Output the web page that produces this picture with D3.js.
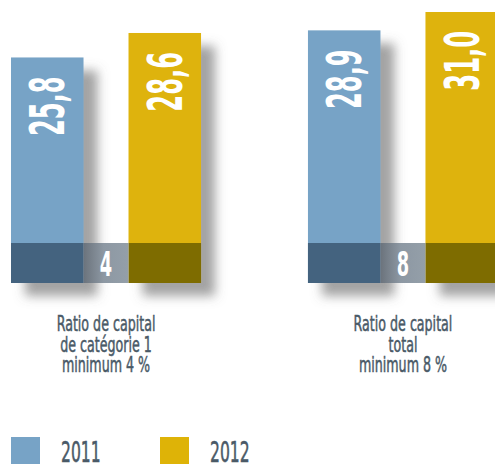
<!DOCTYPE html>
<html lang="fr">
  <head>
    <meta charset="UTF-8" />
    <title>Ratios de capital</title>
    <script src="https://d3js.org/d3.v7.min.js"></script>
    <style>
      body { margin: 0; background: #fff; }
      svg text { font-family: 'DejaVu Sans Condensed', 'DejaVu Sans', sans-serif; }
      svg text.value, svg text.min { font-weight: bold; }
      svg text.label, svg text.leg { stroke: #4a5a67; stroke-width: 0.5; }
    </style>
  </head>
  <body></body>
  <script type="text/javascript">
    var width = 495,
      height = 464;

    // données
    var categories = [
      ['Ratio de capital', 'de catégorie 1', 'minimum 4 %'],
      ['Ratio de capital', 'total', 'minimum 8 %']
    ];
    var years = ['2011', '2012'];
    var values2011 = [25.8, 28.9];
    var values2012 = [28.6, 31.0];
    var minimums = [4, 8];

    var colors = { '2011': '#77a3c6', '2012': '#deb307' };
    var darkColors = { '2011': '#44637f', '2012': '#7e6c00' };
    var fmt = d => d3.format('.1f')(d).replace('.', ',');

    var svg = d3.select('body').append('svg')
      .attr('width', width)
      .attr('height', height);

    var defs = svg.append('defs');
    var shadow = defs.append('filter').attr('id', 'shadow')
      .attr('x', '-20%').attr('y', '-20%').attr('width', '160%').attr('height', '160%');
    shadow.append('feDropShadow')
      .attr('dx', 14).attr('dy', 13).attr('stdDeviation', 5.5)
      .attr('flood-color', '#666').attr('flood-opacity', 0.6);

    var grad = defs.append('linearGradient').attr('id', 'minGrad');
    grad.append('stop').attr('offset', '0%').attr('stop-color', '#6b737c');
    grad.append('stop').attr('offset', '45%').attr('stop-color', '#8d98a3');
    grad.append('stop').attr('offset', '100%').attr('stop-color', '#949fa9');

    var x0 = d3.scaleBand()
      .domain(d3.range(categories.length))
      .range([11, 498])
      .paddingInner(0.36)
      .paddingOuter(0)
      .align(0);

    var x1 = d3.scaleBand()
      .domain(years)
      .range([0, x0.bandwidth()])
      .paddingInner(0.383)
      .paddingOuter(0);

    var y = d3.scaleLinear().domain([0, 31]).range([283, 12]);
    var bandH = 40;

    var groups = svg.selectAll('g.group')
      .data(categories.map((c, i) => ({
        label: c,
        min: minimums[i],
        bars: [
          { year: '2011', value: values2011[i] },
          { year: '2012', value: values2012[i] }
        ]
      })))
      .join('g')
      .attr('class', 'group')
      .attr('transform', (d, i) => `translate(${x0(i)},0)`);

    // barres avec ombre
    groups.selectAll('rect.bar')
      .data(d => d.bars)
      .join('rect')
      .attr('class', 'bar')
      .attr('x', d => x1(d.year))
      .attr('y', d => y(d.value))
      .attr('width', x1.bandwidth())
      .attr('height', d => y(0) - y(d.value))
      .attr('fill', d => colors[d.year])
      .attr('filter', 'url(#shadow)');

    // bande foncée en bas
    groups.selectAll('rect.band')
      .data(d => d.bars)
      .join('rect')
      .attr('class', 'band')
      .attr('x', d => x1(d.year))
      .attr('y', y(0) - bandH)
      .attr('width', x1.bandwidth())
      .attr('height', bandH)
      .attr('fill', d => darkColors[d.year]);

    // case du minimum
    groups.append('rect')
      .attr('x', x1('2011') + x1.bandwidth())
      .attr('y', y(0) - bandH)
      .attr('width', x1('2012') - x1('2011') - x1.bandwidth())
      .attr('height', bandH)
      .attr('fill', 'url(#minGrad)');

    groups.append('text')
      .attr('class', 'min')
      .attr('transform', `translate(${(x1('2011') + x1.bandwidth() + x1('2012')) / 2},${y(0) - 7}) scale(0.6,1)`)
      .attr('text-anchor', 'middle')
      .attr('fill', '#fff')
      .attr('font-size', 33)
      .text(d => d.min);

    // valeurs verticales
    groups.selectAll('text.value')
      .data(d => d.bars)
      .join('text')
      .attr('class', 'value')
      .attr('transform', d => `translate(${x1(d.year) + x1.bandwidth() / 2 + 17},${y(d.value) + 19}) rotate(-90) scale(0.56,1)`)
      .attr('text-anchor', 'end')
      .attr('fill', '#fff')
      .attr('font-size', 48)
      .text(d => fmt(d.value));

    // libellés
    groups.each(function (d) {
      var g = d3.select(this);
      var cx = x0.bandwidth() / 2;
      d.label.forEach((line, j) => {
        g.append('text')
          .attr('class', 'label')
          .attr('transform', `translate(${cx},${331 + j * 20.5}) scale(0.67,1)`)
          .attr('text-anchor', 'middle')
          .attr('fill', '#4a5a67')
          .attr('font-size', 21)
          .text(line);
      });
    });

    // légende
    var legend = svg.selectAll('g.legend')
      .data(years)
      .join('g')
      .attr('class', 'legend')
      .attr('transform', (d, i) => `translate(${11 + i * 149},437)`);

    legend.append('rect')
      .attr('width', 29)
      .attr('height', 27)
      .attr('fill', d => colors[d]);

    legend.append('text')
      .attr('class', 'leg')
      .attr('transform', `translate(50,25) scale(0.62,1)`)
      .attr('fill', '#4a5a67')
      .attr('font-size', 28)
      .text(d => d);
  </script>
</html>
